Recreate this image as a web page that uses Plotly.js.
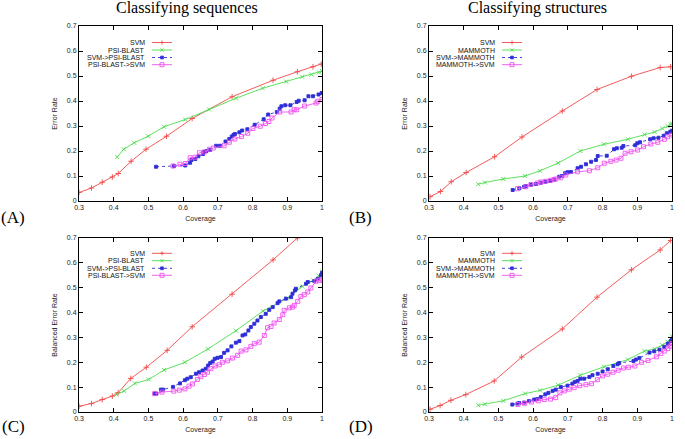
<!DOCTYPE html>
<html>
<head>
<meta charset="utf-8">
<script src="https://cdn.plot.ly/plotly-3.0.1.min.js"></script>
<style>html,body{margin:0;padding:0;background:#fff;}#chart{width:685px;height:439px;}</style>
</head>
<body>
<div id="chart"></div>
<script>
// ---------- Data ----------
const panelTitles = ["Classifying sequences", "Classifying structures"];
const panelLabels = ["(A)", "(B)", "(C)", "(D)"];
const yTitles = ["Error Rate", "Error Rate", "Balanced Error Rate", "Balanced Error Rate"];
const xTitle = "Coverage";
const namesSeq = ["SVM", "PSI-BLAST", "SVM->PSI-BLAST", "PSI-BLAST->SVM"];
const namesStr = ["SVM", "MAMMOTH", "SVM->MAMMOTH", "MAMMOTH->SVM"];
const xTickVals = [0.3, 0.4, 0.5, 0.6, 0.7, 0.8, 0.9, 1.0];
const xTickText = ["0.3", "0.4", "0.5", "0.6", "0.7", "0.8", "0.9", "1"];
const yTickVals = [0, 0.1, 0.2, 0.3, 0.4, 0.5, 0.6, 0.7];
const yTickText = ["0", "0.1", "0.2", "0.3", "0.4", "0.5", "0.6", "0.7"];

// Panel A: sequences, error rate
const A_svm_x = [0.300,0.336,0.367,0.396,0.413,0.450,0.493,0.552,0.626,0.741,0.859,0.929,0.974,0.998];
const A_svm_y = [0.034,0.052,0.075,0.096,0.110,0.159,0.207,0.259,0.330,0.417,0.483,0.517,0.537,0.548];
const A_psi_x = [0.410,0.429,0.459,0.499,0.545,0.606,0.675,0.752,0.829,0.897,0.943,0.970,0.991,1.000];
const A_psi_y = [0.176,0.207,0.233,0.259,0.297,0.326,0.366,0.411,0.451,0.478,0.497,0.506,0.514,0.520];
const A_sp_x = [0.522,0.574,0.606,0.620,0.624,0.635,0.644,0.657,0.659,0.667,0.678,0.695,0.706,0.722,0.733,0.740,0.745,0.749,0.762,0.770,0.785,0.806,0.832,0.845,0.870,0.878,0.883,0.894,0.909,0.927,0.933,0.950,0.961,0.974,0.990,0.999,1.000];
const A_sp_y = [0.137,0.140,0.142,0.153,0.164,0.168,0.179,0.188,0.196,0.200,0.204,0.221,0.221,0.238,0.248,0.258,0.264,0.268,0.275,0.282,0.287,0.305,0.327,0.346,0.356,0.369,0.379,0.383,0.383,0.396,0.401,0.403,0.419,0.419,0.426,0.432,0.432];
const A_ps_x = [0.571,0.591,0.606,0.620,0.634,0.647,0.661,0.676,0.687,0.718,0.733,0.749,0.768,0.786,0.801,0.822,0.837,0.847,0.856,0.878,0.911,0.920,0.927,0.950,0.983,0.988,1.000];
const A_ps_y = [0.140,0.147,0.150,0.173,0.175,0.193,0.196,0.207,0.212,0.221,0.235,0.248,0.258,0.271,0.290,0.299,0.310,0.318,0.332,0.356,0.356,0.365,0.365,0.380,0.392,0.399,0.406];

// Panel B: structures, error rate
const B_svm_x = [0.303,0.333,0.364,0.407,0.489,0.568,0.684,0.784,0.883,0.966,0.996];
const B_svm_y = [0.017,0.038,0.077,0.114,0.177,0.256,0.360,0.446,0.499,0.534,0.537];
const B_mam_x = [0.442,0.461,0.514,0.577,0.620,0.672,0.736,0.804,0.873,0.921,0.950,0.972,0.988,0.996,1.000];
const B_mam_y = [0.067,0.074,0.088,0.100,0.121,0.152,0.200,0.227,0.247,0.266,0.276,0.290,0.299,0.307,0.310];
const B_sm_x = [0.541,0.560,0.574,0.579,0.593,0.608,0.622,0.635,0.649,0.661,0.675,0.683,0.692,0.699,0.709,0.728,0.738,0.752,0.767,0.781,0.786,0.812,0.833,0.841,0.855,0.860,0.894,0.900,0.908,0.937,0.947,0.961,0.976,0.985,0.995,1.000];
const B_sm_y = [0.044,0.051,0.057,0.060,0.064,0.068,0.073,0.077,0.080,0.084,0.097,0.100,0.111,0.115,0.116,0.131,0.137,0.147,0.157,0.164,0.180,0.181,0.207,0.211,0.213,0.220,0.223,0.231,0.235,0.247,0.251,0.253,0.261,0.271,0.277,0.281];
const B_ms_x = [0.555,0.579,0.594,0.613,0.622,0.636,0.650,0.660,0.665,0.680,0.694,0.728,0.762,0.786,0.805,0.824,0.839,0.853,0.865,0.882,0.901,0.918,0.939,0.959,0.978,0.987,1.000];
const B_ms_y = [0.049,0.057,0.066,0.072,0.076,0.079,0.083,0.086,0.088,0.093,0.104,0.117,0.121,0.133,0.151,0.159,0.164,0.171,0.191,0.197,0.204,0.217,0.228,0.235,0.247,0.257,0.264];

// Panel C: sequences, balanced error rate
const C_svm_x = [0.300,0.336,0.367,0.396,0.413,0.449,0.494,0.554,0.626,0.741,0.859,0.929,0.974];
const C_svm_y = [0.023,0.034,0.050,0.064,0.078,0.135,0.180,0.248,0.343,0.474,0.612,0.700,0.760];
const C_psi_x = [0.408,0.430,0.461,0.501,0.545,0.605,0.672,0.752,0.830,0.899,0.943,0.975,0.991,1.000];
const C_psi_y = [0.070,0.085,0.115,0.131,0.169,0.200,0.254,0.327,0.406,0.457,0.505,0.530,0.548,0.566];
const C_sp_x = [0.518,0.523,0.536,0.542,0.571,0.591,0.605,0.612,0.622,0.637,0.646,0.656,0.665,0.672,0.678,0.685,0.691,0.699,0.709,0.718,0.728,0.739,0.752,0.762,0.771,0.779,0.788,0.795,0.805,0.814,0.824,0.838,0.848,0.858,0.872,0.877,0.896,0.911,0.915,0.922,0.925,0.954,0.959,0.978,0.988,0.997,1.000];
const C_sp_y = [0.074,0.074,0.090,0.090,0.101,0.115,0.128,0.134,0.140,0.154,0.160,0.167,0.174,0.187,0.197,0.203,0.214,0.218,0.221,0.238,0.248,0.264,0.279,0.285,0.308,0.312,0.328,0.342,0.355,0.368,0.382,0.395,0.411,0.422,0.438,0.445,0.456,0.462,0.476,0.489,0.496,0.516,0.523,0.527,0.536,0.550,0.560];
const C_ps_x = [0.518,0.539,0.573,0.589,0.605,0.617,0.627,0.641,0.651,0.661,0.670,0.680,0.692,0.704,0.713,0.728,0.742,0.757,0.767,0.781,0.795,0.805,0.819,0.834,0.843,0.853,0.862,0.877,0.887,0.891,0.906,0.915,0.920,0.930,0.939,0.949,0.959,0.968,0.983,0.992,1.000];
const C_ps_y = [0.074,0.080,0.084,0.088,0.093,0.104,0.113,0.131,0.142,0.151,0.160,0.174,0.185,0.190,0.200,0.206,0.217,0.228,0.245,0.250,0.264,0.275,0.281,0.308,0.339,0.344,0.358,0.372,0.391,0.409,0.419,0.422,0.429,0.445,0.465,0.472,0.483,0.499,0.526,0.530,0.530];

// Panel D: structures, balanced error rate
const D_svm_x = [0.303,0.332,0.363,0.406,0.488,0.567,0.684,0.784,0.883,0.966,0.996];
const D_svm_y = [0.011,0.026,0.047,0.070,0.125,0.221,0.334,0.462,0.572,0.652,0.690];
const D_mam_x = [0.442,0.461,0.514,0.577,0.620,0.672,0.736,0.804,0.873,0.921,0.950,0.972,0.988,0.996,1.000];
const D_mam_y = [0.027,0.031,0.045,0.074,0.087,0.108,0.148,0.182,0.211,0.245,0.254,0.269,0.283,0.295,0.305];
const D_sm_x = [0.540,0.555,0.560,0.574,0.588,0.603,0.612,0.622,0.635,0.644,0.656,0.665,0.680,0.699,0.713,0.720,0.728,0.736,0.747,0.762,0.771,0.786,0.800,0.815,0.831,0.843,0.848,0.889,0.896,0.906,0.935,0.949,0.964,0.978,0.988,0.997,1.000];
const D_sm_y = [0.030,0.034,0.036,0.038,0.044,0.050,0.052,0.060,0.071,0.077,0.085,0.090,0.100,0.106,0.114,0.121,0.125,0.134,0.134,0.141,0.148,0.154,0.163,0.172,0.185,0.192,0.197,0.205,0.211,0.217,0.239,0.244,0.251,0.262,0.275,0.286,0.291];
const D_ms_x = [0.556,0.575,0.595,0.615,0.632,0.650,0.665,0.677,0.690,0.704,0.718,0.734,0.752,0.768,0.785,0.800,0.815,0.830,0.845,0.860,0.875,0.893,0.912,0.931,0.955,0.968,0.978,0.988,0.995,1.000];
const D_ms_y = [0.030,0.035,0.040,0.045,0.050,0.052,0.058,0.077,0.085,0.092,0.098,0.106,0.110,0.114,0.130,0.145,0.152,0.160,0.168,0.177,0.180,0.185,0.200,0.207,0.222,0.235,0.245,0.255,0.265,0.275];

// ---------- Styles ----------
const W = 685, H = 439;
const fx = p => p / W;
const fy = p => 1 - p / H;
const RED = "#f04a4a", GREEN = "#4cdc4c", BLUE = "#2e2ed8", MAG = "#f050f0";
const styles = [
  {color: RED,   dash: "solid", symbol: "cross-thin-open", size: 4},
  {color: GREEN, dash: "solid", symbol: "x-thin-open",     size: 4},
  {color: BLUE,  dash: "dot",   symbol: "square",          size: 3},
  {color: MAG,   dash: "solid", symbol: "square-open",     size: 4}
];

const panels = [
  {names: namesSeq, xs: [A_svm_x, A_psi_x, A_sp_x, A_ps_x], ys: [A_svm_y, A_psi_y, A_sp_y, A_ps_y]},
  {names: namesStr, xs: [B_svm_x, B_mam_x, B_sm_x, B_ms_x], ys: [B_svm_y, B_mam_y, B_sm_y, B_ms_y]},
  {names: namesSeq, xs: [C_svm_x, C_psi_x, C_sp_x, C_ps_x], ys: [C_svm_y, C_psi_y, C_sp_y, C_ps_y]},
  {names: namesStr, xs: [D_svm_x, D_mam_x, D_sm_x, D_ms_x], ys: [D_svm_y, D_mam_y, D_sm_y, D_ms_y]}
];

// pixel geometry of each plot area: [left, right, top, bottom]
const boxes = [[79, 322, 26, 201], [429, 672, 26, 201], [79, 322, 238, 412], [429, 672, 238, 412]];
// legend geometry: text right edge, line start/end, row y positions
const legendGeo = [
  {tx: 147, l0: 152, l1: 172, rows: [42.5, 50, 57.5, 64.7]},
  {tx: 497, l0: 502, l1: 522, rows: [42.5, 50, 57.5, 64.7]},
  {tx: 147, l0: 152, l1: 172, rows: [253.3, 260.7, 268.3, 275.3]},
  {tx: 497, l0: 502, l1: 522, rows: [253.3, 260.7, 268.3, 275.3]}
];

const FONT = "Liberation Sans, Arial, sans-serif";
const SERIF = "Liberation Serif, Times New Roman, serif";

const traces = [];
const layout = {
  width: W, height: H,
  margin: {l: 0, r: 0, t: 0, b: 0},
  paper_bgcolor: "#fff", plot_bgcolor: "#fff",
  showlegend: false,
  annotations: [], shapes: []
};

panels.forEach((p, i) => {
  const k = i === 0 ? "" : String(i + 1);
  const [L, R, T, B] = boxes[i];
  const axBase = {
    showline: true, linecolor: "#000", linewidth: 1, mirror: "ticks",
    ticks: "inside", ticklen: 4, tickcolor: "#000", tickwidth: 1,
    showgrid: false, zeroline: false,
    tickfont: {family: FONT, size: 7, color: "#222"}
  };
  layout["xaxis" + k] = Object.assign({}, axBase, {
    domain: [fx(L), fx(R)], anchor: "y" + k, range: [0.3, 1],
    tickvals: xTickVals, ticktext: xTickText,
    title: {text: xTitle, font: {family: FONT, size: 7, color: "#222"}, standoff: 5}
  });
  layout["yaxis" + k] = Object.assign({}, axBase, {
    domain: [fy(B), fy(T)], anchor: "x" + k, range: [0, 0.7],
    tickvals: yTickVals, ticktext: yTickText,
    title: {text: yTitles[i], font: {family: FONT, size: 7, color: "#222"}, standoff: 8}
  });
  p.xs.forEach((xv, j) => {
    const s = styles[j];
    traces.push({
      type: "scatter", mode: "lines+markers",
      x: xv, y: p.ys[j], name: p.names[j],
      xaxis: "x" + k, yaxis: "y" + k,
      line: {color: s.color, width: 0.9, dash: s.dash},
      marker: {color: s.color, symbol: s.symbol, size: s.size, line: {color: s.color, width: 0.9}}
    });
  });
  // custom gnuplot-style legend
  const g = legendGeo[i];
  p.names.forEach((nm, j) => {
    const s = styles[j];
    const yy = g.rows[j];
    layout.annotations.push({
      xref: "paper", yref: "paper", x: fx(g.tx), y: fy(yy),
      xanchor: "right", yanchor: "middle", showarrow: false,
      text: nm, font: {family: FONT, size: 7, color: "#111"}
    });
    layout.shapes.push({
      type: "line", xref: "paper", yref: "paper",
      x0: fx(g.l0), x1: fx(g.l1), y0: fy(yy), y1: fy(yy),
      line: {color: s.color, width: 0.9, dash: s.dash}
    });
    const cx = (g.l0 + g.l1) / 2;
    if (j === 0) {
      layout.shapes.push({type: "line", xref: "paper", yref: "paper", x0: fx(cx - 2), x1: fx(cx + 2), y0: fy(yy), y1: fy(yy), line: {color: s.color, width: 0.9}});
      layout.shapes.push({type: "line", xref: "paper", yref: "paper", x0: fx(cx), x1: fx(cx), y0: fy(yy - 2), y1: fy(yy + 2), line: {color: s.color, width: 0.9}});
    } else if (j === 1) {
      layout.shapes.push({type: "line", xref: "paper", yref: "paper", x0: fx(cx - 1.6), x1: fx(cx + 1.6), y0: fy(yy - 1.6), y1: fy(yy + 1.6), line: {color: s.color, width: 0.9}});
      layout.shapes.push({type: "line", xref: "paper", yref: "paper", x0: fx(cx - 1.6), x1: fx(cx + 1.6), y0: fy(yy + 1.6), y1: fy(yy - 1.6), line: {color: s.color, width: 0.9}});
    } else if (j === 2) {
      layout.shapes.push({type: "rect", xref: "paper", yref: "paper", x0: fx(cx - 1.4), x1: fx(cx + 1.4), y0: fy(yy + 1.4), y1: fy(yy - 1.4), line: {color: s.color, width: 0.8}, fillcolor: s.color});
    } else {
      layout.shapes.push({type: "rect", xref: "paper", yref: "paper", x0: fx(cx - 2), x1: fx(cx + 2), y0: fy(yy + 2), y1: fy(yy - 2), line: {color: s.color, width: 0.9}, fillcolor: "rgba(0,0,0,0)"});
    }
  });
});

// column titles
[[187, panelTitles[0]], [537, panelTitles[1]]].forEach(([x, t]) => {
  layout.annotations.push({
    xref: "paper", yref: "paper", x: fx(x), y: fy(8), xanchor: "center", yanchor: "middle",
    showarrow: false, text: t, font: {family: SERIF, size: 16, color: "#000"}
  });
});
// panel labels
[[13, 217], [361, 217], [13, 426], [361, 426]].forEach(([x, y], i) => {
  layout.annotations.push({
    xref: "paper", yref: "paper", x: fx(x), y: fy(y), xanchor: "center", yanchor: "middle",
    showarrow: false, text: panelLabels[i], font: {family: SERIF, size: 17, color: "#000"}
  });
});

Plotly.newPlot("chart", traces, layout, {displayModeBar: false, staticPlot: true});
</script>
</body>
</html>
